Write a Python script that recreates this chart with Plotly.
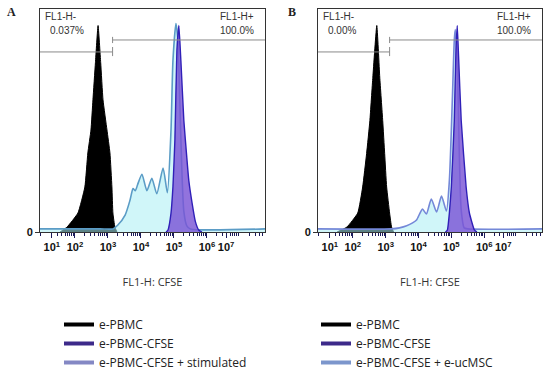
import math
import plotly.graph_objects as go

# ---------------- data (x in log10 decades of FL1-H, y in % of max) ----------------
tick_vals = [1.30, 2.0, 3.0, 4.0, 5.0, 6.0, 6.58]
tick_text = ["10<sup>1</sup>", "10<sup>2</sup>", "10<sup>3</sup>", "10<sup>4</sup>",
             "10<sup>5</sup>", "10<sup>6</sup>", "10<sup>7</sup>"]

# Panel A
a_pbmc_x = [1.55, 1.76, 2.09, 2.30, 2.39, 2.485, 2.545, 2.62, 2.70, 2.78, 2.85, 2.97, 3.06, 3.12, 3.15, 3.21, 3.27]
a_pbmc_y = [0, 2.4, 9.2, 21.8, 38.3, 49.4, 64, 82, 100, 82, 64, 49.4, 38.3, 21.8, 9.2, 2.4, 0]

a_cfse_x = [4.76, 4.82, 4.91, 4.97, 5.03, 5.09, 5.15, 5.21, 5.30, 5.39, 5.45, 5.55, 5.65, 5.75, 5.85]
a_cfse_y = [0, 1, 9, 22, 45, 88, 100, 83, 54, 36, 25, 14, 5, 1, 0]

a_stim_x = [0.94, 2.76, 3.15, 3.30, 3.52, 3.67, 3.76, 3.83, 3.90, 4.03, 4.18, 4.33, 4.48, 4.67, 4.80,
            4.91, 4.97, 5.06, 5.12, 5.18, 5.24, 5.30, 5.39, 5.50, 7.76]
a_stim_y = [1.5, 1.5, 1.5, 3.4, 8.2, 15.5, 21, 20, 23, 28, 20, 26, 18.5, 31, 19,
            49, 83, 101, 93, 62, 30, 10, 3, 1.5, 1.5]

# Panel B
b_pbmc_x = [1.52, 1.82, 2.15, 2.30, 2.42, 2.52, 2.61, 2.73, 2.82, 2.91, 2.97, 3.03, 3.12, 3.18, 3.24]
b_pbmc_y = [0, 2.4, 9.2, 21.8, 38, 54, 75, 100, 75, 54, 38, 21.8, 9.2, 2.4, 0]

b_cfse_x = [4.82, 4.88, 4.94, 5.00, 5.09, 5.14, 5.18, 5.22, 5.30, 5.45, 5.55, 5.70, 5.78]
b_cfse_y = [0, 1, 9.2, 21.8, 54, 88, 100, 85, 54, 21.8, 9.2, 1, 0]

b_msc_x = [0.94, 3.18, 3.42, 3.64, 3.82, 3.94, 4.12, 4.24, 4.39, 4.55, 4.70, 4.85, 4.94, 5.03,
           5.09, 5.12, 5.18, 5.24, 5.30, 5.39, 5.50, 7.76]
b_msc_y = [1.5, 1.5, 2, 3, 4.4, 5.8, 11.1, 8.7, 16, 9.7, 17.4, 10.2, 25, 64,
           93, 98, 83, 40, 10.7, 2, 1.5, 1.5]

# gates
gate_split = [3.14, 3.12]
gate_neg_level = 87.2
gate_pos_level = 93.0
gate_neg_pct = ["0.037%", "0.00%"]
gate_pos_pct = ["100.0%", "100.0%"]

legend_a = ["e-PBMC", "e-PBMC-CFSE", "e-PBMC-CFSE + stimulated"]
legend_b = ["e-PBMC", "e-PBMC-CFSE", "e-PBMC-CFSE + e-ucMSC"]

# ---------------- figure ----------------
X_RANGE = [0.94, 7.76]
Y_RANGE = [0, 108]
fig = go.Figure()

BLACK = "#000000"
CFSE_LINE = "#3020b8"
CFSE_FILL = "rgba(122,84,214,0.82)"
STIM_LINE_A = "#5b9cc6"
STIM_LINE_B = "#7488d8"
STIM_FILL = "rgba(170,238,244,0.55)"


def add_panel(xa, ya, px, py, cx, cy, sx, sy, stim_line):
    fig.add_trace(go.Scatter(x=px, y=py, xaxis=xa, yaxis=ya, mode="lines", fill="tozeroy",
                             fillcolor=BLACK, line=dict(color=BLACK, width=1, shape="spline", smoothing=0.4),
                             showlegend=False, hoverinfo="skip"))
    fig.add_trace(go.Scatter(x=sx, y=sy, xaxis=xa, yaxis=ya, mode="lines", fill="tozeroy",
                             fillcolor=STIM_FILL, line=dict(color=stim_line, width=1.6, shape="spline", smoothing=0.6),
                             showlegend=False, hoverinfo="skip"))
    fig.add_trace(go.Scatter(x=cx, y=cy, xaxis=xa, yaxis=ya, mode="lines", fill="tozeroy",
                             fillcolor=CFSE_FILL, line=dict(color=CFSE_LINE, width=1.4, shape="spline", smoothing=0.4),
                             showlegend=False, hoverinfo="skip"))


add_panel("x", "y", a_pbmc_x, a_pbmc_y, a_cfse_x, a_cfse_y, a_stim_x, a_stim_y, STIM_LINE_A)
add_panel("x2", "y2", b_pbmc_x, b_pbmc_y, b_cfse_x, b_cfse_y, b_msc_x, b_msc_y, STIM_LINE_B)

# legend-only entries
leg_colors_a = ["#000000", "#3d2a8a", "#8488c4"]
leg_colors_b = ["#000000", "#3d2a8a", "#7c96cc"]
for name, col in zip(legend_a, leg_colors_a):
    fig.add_trace(go.Scatter(x=[None], y=[None], mode="lines", name=name,
                             line=dict(color=col, width=4), legend="legend"))
for name, col in zip(legend_b, leg_colors_b):
    fig.add_trace(go.Scatter(x=[None], y=[None], mode="lines", name=name,
                             line=dict(color=col, width=4), legend="legend2"))

minor_vals = [n + math.log10(k) for n in range(0, 8) for k in range(2, 10)
              if X_RANGE[0] < n + math.log10(k) < X_RANGE[1]]

W, H = 550, 369
def px_x(p):
    return p / W
def px_y(p):
    return 1 - p / H

axis_common = dict(showgrid=False, zeroline=False, showline=True, mirror=True, linecolor="#333333",
                   linewidth=1)
xaxis_common = dict(axis_common, range=X_RANGE, tickmode="array", tickvals=tick_vals, ticktext=tick_text,
                    ticks="outside", ticklen=5, tickcolor="#1a1a5a", tickwidth=1,
                    tickfont=dict(family="Liberation Sans, Arial", size=11, color="#111111", weight="bold"),
                    minor=dict(tickmode="array", tickvals=minor_vals, ticks="outside", ticklen=3,
                               tickcolor="#1a1a5a", showgrid=False),
                    title=dict(text="FL1-H: CFSE", standoff=26,
                               font=dict(family="Open Sans", size=11, color="#333333")))
yaxis_common = dict(axis_common, range=Y_RANGE, tickmode="array", tickvals=[0], ticktext=["0"],
                    ticks="outside", ticklen=4, tickcolor="#333333",
                    tickfont=dict(family="Liberation Sans, Arial", size=11, color="#111111", weight="bold"),
                    domain=[px_y(232), px_y(9)])

fig.update_layout(
    width=W, height=H, margin=dict(l=0, r=0, t=0, b=0, autoexpand=False),
    paper_bgcolor="white", plot_bgcolor="white",
    xaxis=dict(xaxis_common, domain=[px_x(40), px_x(265)], anchor="y"),
    yaxis=dict(yaxis_common, anchor="x"),
    xaxis2=dict(xaxis_common, domain=[px_x(318), px_x(542)], anchor="y2"),
    yaxis2=dict(yaxis_common, anchor="x2"),
    legend=dict(x=px_x(59), y=px_y(310), xanchor="left", yanchor="top", tracegroupgap=0,
                font=dict(family="Open Sans", size=12, color="#222222"), bgcolor="rgba(0,0,0,0)"),
    legend2=dict(x=px_x(316), y=px_y(310), xanchor="left", yanchor="top", tracegroupgap=0,
                 font=dict(family="Open Sans", size=12, color="#222222"), bgcolor="rgba(0,0,0,0)"),
)

# gate lines and labels
for i, (xa, ya) in enumerate([("x", "y"), ("x2", "y2")]):
    g = gate_split[i]
    gray = dict(color="#8a8a8a", width=1)
    fig.add_shape(type="line", xref=xa, yref=ya, x0=X_RANGE[0], x1=g, y0=gate_neg_level, y1=gate_neg_level, line=gray)
    fig.add_shape(type="line", xref=xa, yref=ya, x0=g, x1=g, y0=gate_neg_level - 2, y1=gate_neg_level + 2.4, line=gray)
    fig.add_shape(type="line", xref=xa, yref=ya, x0=g, x1=X_RANGE[1], y0=gate_pos_level, y1=gate_pos_level, line=gray)
    fig.add_shape(type="line", xref=xa, yref=ya, x0=g, x1=g, y0=gate_pos_level - 1.5, y1=gate_pos_level + 1.5, line=gray)
    dom = "x domain" if i == 0 else "x2 domain"
    ydom = "y domain" if i == 0 else "y2 domain"
    f = dict(family="Liberation Sans, Arial", size=10, color="#333333")
    fig.add_annotation(xref=dom, yref=ydom, x=0.015, y=0.968, text="FL1-H-", showarrow=False,
                       xanchor="left", yanchor="middle", font=f)
    fig.add_annotation(xref=dom, yref=ydom, x=0.035, y=0.905, text=gate_neg_pct[i], showarrow=False,
                       xanchor="left", yanchor="middle", font=f)
    fig.add_annotation(xref=dom, yref=ydom, x=0.96, y=0.968, text="FL1-H+", showarrow=False,
                       xanchor="right", yanchor="middle", font=f)
    fig.add_annotation(xref=dom, yref=ydom, x=0.96, y=0.905, text=gate_pos_pct[i], showarrow=False,
                       xanchor="right", yanchor="middle", font=f)

# panel letters
for letter, xp in [("A", 11), ("B", 292)]:
    fig.add_annotation(xref="paper", yref="paper", x=px_x(xp), y=px_y(12), text="<b>%s</b>" % letter,
                       showarrow=False, xanchor="center", yanchor="middle",
                       font=dict(family="Liberation Serif, DejaVu Serif", size=12, color="#222222"))

fig.write_html("out.html", config={"displayModeBar": False},
               post_script="document.body.style.margin='0px';")
